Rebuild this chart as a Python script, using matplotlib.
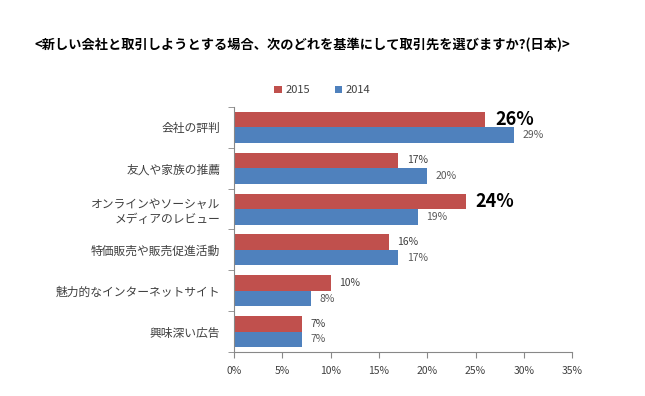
import matplotlib
matplotlib.use("Agg")
import matplotlib.pyplot as plt
import numpy as np

plt.rcParams['font.family'] = ['Noto Sans CJK JP', 'DejaVu Sans']

categories = ["会社の評判", "友人や家族の推薦", "オンラインやソーシャル\nメディアのレビュー",
              "特価販売や販売促進活動", "魅力的なインターネットサイト", "興味深い広告"]
v2015 = [26, 17, 24, 16, 10, 7]
v2014 = [29, 20, 19, 17, 8, 7]
highlight = [True, False, True, False, False, False]
xticks = [0, 5, 10, 15, 20, 25, 30, 35]

red = "#C0504D"
blue = "#4F81BD"
gray = "#404040"

fig = plt.figure(figsize=(6.45, 3.96), dpi=100)
ax = fig.add_axes([0.363, 0.111, 0.524, 0.619])

y = np.arange(len(categories))
h = 0.38
ax.barh(y - h/2, v2015, height=h, color=red, label="2015")
ax.barh(y + h/2, v2014, height=h, color=blue, label="2014")

for i in range(len(categories)):
    if highlight[i]:
        ax.annotate(f"{v2015[i]}%", (v2015[i], y[i] - h/2), xytext=(7, 0), textcoords="offset points",
                    va="center", ha="left", fontsize=13, fontweight="bold", color="black")
    else:
        ax.annotate(f"{v2015[i]}%", (v2015[i], y[i] - h/2), xytext=(6, 0), textcoords="offset points",
                    va="center", ha="left", fontsize=7.5, color=gray)
    ax.annotate(f"{v2014[i]}%", (v2014[i], y[i] + h/2), xytext=(6, 0), textcoords="offset points",
                va="center", ha="left", fontsize=7.5, color="#595959")

ax.set_xlim(0, 35)
ax.set_ylim(len(categories) - 0.5, -0.5)
ax.set_xticks(xticks)
ax.set_xticklabels([f"{t}%" for t in xticks], fontsize=7.5, color=gray)
ax.set_yticks(y)
ax.set_yticklabels(categories, fontsize=8.5, color=gray, linespacing=1.2)
ax.tick_params(axis='y', length=0, pad=10)
ax.set_yticks(np.arange(-0.5, len(categories), 1), minor=True)
ax.tick_params(axis='y', which='minor', length=4, color="#888888")
ax.tick_params(axis='x', length=4, color="#888888", pad=6)
for s in ["top", "right"]:
    ax.spines[s].set_visible(False)
for s in ["left", "bottom"]:
    ax.spines[s].set_color("#888888")
    ax.spines[s].set_linewidth(0.8)

fig.text(0.054, 0.886, "<新しい会社と取引しようとする場合、次のどれを基準にして取引先を選びますか?(日本)>",
         fontsize=9.5, fontweight="bold", ha="left", va="center", color="black")

fig.legend(loc="center", bbox_to_anchor=(0.50, 0.772), ncol=2, frameon=False, fontsize=8,
           handlelength=0.7, handleheight=0.7, columnspacing=2.2, handletextpad=0.3,
           labelcolor=gray)

fig.savefig("out.png", dpi=100)
